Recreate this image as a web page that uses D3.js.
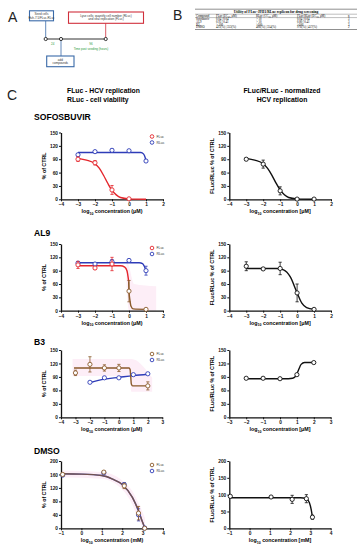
<!DOCTYPE html>
<html>
<head>
<meta charset="utf-8">
<script src="https://cdnjs.cloudflare.com/ajax/libs/d3/7.8.5/d3.min.js"></script>
<style>
  body { margin: 0; background: #fff; }
  svg { display: block; font-family: "Liberation Sans", Arial, sans-serif; }
</style>
</head>
<body>
<div id="fig"></div>
<script>
// ---- data: [x, y, sem] for points, [x, y] for fitted curves
var sofFluc = [[-3, 90, 5], [-2, 82, 5], [-1, 21, 10], [0, 1, 0]];
var sofRluc = [[-3, 100, 3], [-2, 107, 2], [-1, 110, 3], [0, 109, 2], [1, 86, 2]];
var sofFlucFit = [[-3, 92], [-2.5, 88], [-2, 80], [-1.75, 70], [-1.5, 54], [-1.25, 36], [-1, 20], [-0.75, 10], [-0.5, 4], [0, 1], [1, 0]];
var sofRlucFit = [[-3, 105], [0.7, 105], [0.85, 102], [0.95, 94], [1, 86]];
var sofNorm = [[-3, 90, 3], [-2, 79, 9], [-1, 19, 9], [0, 0.5, 0], [1, 0.5, 0]];
var sofNormFit = [[-3, 92], [-2.5, 88], [-2, 80], [-1.75, 70], [-1.5, 55], [-1.25, 37], [-1, 21], [-0.75, 10], [-0.5, 4], [0, 1], [1, 0]];

var al9Fluc = [[-3, 103, 8], [-2, 96, 3], [-1, 105, 15]];
var al9FlucLow = [[0, 44, 24], [1, 3, 1]];
var al9Rluc = [[-3, 107, 3], [-2, 105, 3], [-1, 110, 5], [0, 113, 3], [1, 90, 10]];
var al9FlucFit = [[-3, 101], [-0.5, 101], [-0.25, 98], [-0.12, 90], [-0.05, 75], [-0.02, 66]];
var al9FlucFitLow = [[-0.02, 66], [0, 44], [0.05, 25], [0.12, 10], [0.25, 4], [1, 3]];
var al9RlucFit = [[-3, 108], [0.6, 108], [0.8, 106], [0.9, 100], [1, 90]];
var al9Band = [[-0.15, 60, 115], [0, 0, 100], [0.3, 0, 60], [1.6, 0, 55]];
var al9Norm = [[-3, 100, 10], [-2, 94, 2], [-1, 95, 14], [0, 40, 20], [1, 3, 1]];
var al9NormFit = [[-3, 95], [-1.2, 95], [-0.8, 92], [-0.4, 76], [0, 40], [0.28, 17], [0.56, 7], [1, 3]];

var b3Fluc = [[-3, 99, 6], [-2, 118, 17], [-1, 110, 7], [0, 110, 8], [2, 70, 9]];
var b3Rluc = [[-2, 78, 1], [-1, 88, 1], [0, 88, 1], [1, 95, 1], [2, 97, 1]];
var b3FlucFit = [[-3.1, 110], [0.7, 110], [0.78, 106], [0.82, 90], [0.86, 74], [0.95, 70], [2.1, 70]];
var b3RlucFit = [[-2, 77], [-1, 85], [0, 89], [1, 93], [2, 96]];
var b3Band = [[-3.2, 92, 130], [0.78, 92, 130], [0.86, 57, 130], [2.3, 57, 88]];
var b3Norm = [[-2, 87, 1], [-1, 87, 1], [0, 86, 1], [1, 95, 2], [2, 122, 1]];
var b3NormFit = [[-2, 86], [0.5, 86], [0.75, 87], [0.95, 93], [1.1, 106], [1.25, 118], [1.45, 122], [2, 122]];

var dmsoFluc = [[-0.92, 160, 4], [1.1, 167, 3], [2.1, 126, 8], [2.8, 45, 20], [3.1, 0, 0]];
var dmsoRluc = [[-0.92, 158, 3], [1.1, 165, 3], [2.1, 130, 6], [2.8, 40, 18], [3.1, 1, 0]];
var dmsoFit = [[-1, 162], [0, 161], [1, 157], [1.5, 147], [2, 130], [2.5, 92], [2.8, 52], [3, 18], [3.12, 0]];
var dmsoBand = [[-1, 152, 172], [1, 147, 167], [2, 115, 142], [2.5, 70, 110], [2.8, 25, 75], [3.12, 0, 30]];
var dmsoNorm = [[-0.95, 95, 2], [1.06, 93, 2], [2.1, 86, 12], [2.8, 88, 12], [3.1, 33, 6]];
var dmsoNormFit = [[-1, 91], [2.5, 91], [2.8, 88], [2.95, 76], [3.05, 52], [3.1, 33]];

var ticks150 = [0, 30, 60, 90, 120, 150];
var ticks200L = [0, 40, 80, 120, 160, 200];
var ticks200R = [0, 50, 100, 150, 200];
var xTicksA = [-4, -3, -2, -1, 0, 1, 2];
var xTicksB3L = [-4, -3, -2, -1, 0, 1, 2, 3];
var xTicksB3R = [-3, -2, -1, 0, 1, 2, 3];
var xTicksDmso = [-1, 0, 1, 2, 3, 4];

var tableHead = ["Compound", "FLuc (EC\u2085\u2080, \u03bcM)", "RLuc (CC\u2085\u2080, \u03bcM)", "FLuc/RLuc (EC\u2085\u2080, \u03bcM)", "n"];
var tableRows = [
  ["Sofosbuvir", "0.04 | 0.04", "> 10", "0.04 | 0.04", "3"],
  ["AL9", "0.93 | 0.41", "> 10", "0.80 | 0.41", "3"],
  ["B3", "> 100", ">100", ">100", "3"],
  ["DMSO", "425(%) | 353(%)", "406(%) | 354(%)", "976(%) | 457(%)", "2"]
];

var RED = "#e4262c", BLUE = "#2e3cb8", BROWN = "#8a5a2b", PINK = "#fdeef7";

var svg = d3.select("#fig").append("svg").attr("width", 363).attr("height", 550);
svg.append("rect").attr("width", 363).attr("height", 550).attr("fill", "#fff");

// ---- panel letters and headers
function letter(t, x, y) {
  svg.append("text").attr("x", x).attr("y", y).attr("font-size", 14).attr("fill", "#222").text(t);
}
letter("A", 8, 22);
letter("B", 173, 20);
letter("C", 7, 100);

svg.append("text").attr("x", 67).attr("y", 93).attr("font-size", 6.8).attr("font-weight", "bold").text("FLuc - HCV replication");
svg.append("text").attr("x", 67).attr("y", 101.5).attr("font-size", 6.8).attr("font-weight", "bold").text("RLuc - cell viability");
svg.append("text").attr("x", 282).attr("y", 93).attr("text-anchor", "middle").attr("font-size", 6.8).attr("font-weight", "bold").text("FLuc/RLuc - normalized");
svg.append("text").attr("x", 282).attr("y", 101.5).attr("text-anchor", "middle").attr("font-size", 6.8).attr("font-weight", "bold").text("HCV replication");

[["SOFOSBUVIR", 120], ["AL9", 235.5], ["B3", 344.5], ["DMSO", 453.5]].forEach(function (d) {
  svg.append("text").attr("x", 34).attr("y", d[1]).attr("font-size", 8.6).attr("font-weight", "bold").text(d[0]);
});

// ---- panel A: timeline
var A = svg.append("g");
function box(x, y, w, h, col, lines) {
  A.append("rect").attr("x", x).attr("y", y).attr("width", w).attr("height", h)
    .attr("fill", "#fff").attr("stroke", col).attr("stroke-width", 1.1);
  lines.forEach(function (t, i) {
    A.append("text").attr("x", x + w / 2).attr("y", y + h / 2 - (lines.length - 1) * 1.8 + i * 3.6 + 1)
      .attr("text-anchor", "middle").attr("font-size", 3).attr("fill", "#333").text(t);
  });
}
A.append("line").attr("x1", 45.7).attr("x2", 105.7).attr("y1", 39).attr("y2", 39).attr("stroke", "#333").attr("stroke-width", 1);
A.append("line").attr("x1", 45.7).attr("x2", 45.7).attr("y1", 21).attr("y2", 39).attr("stroke", "#3a6aa8").attr("stroke-width", 0.8);
A.append("line").attr("x1", 105.7).attr("x2", 105.7).attr("y1", 23).attr("y2", 39).attr("stroke", "#d0303c").attr("stroke-width", 0.8);
A.append("line").attr("x1", 61).attr("x2", 61).attr("y1", 39).attr("y2", 56).attr("stroke", "#3a6aa8").attr("stroke-width", 0.8);
[45.7, 61, 105.7].forEach(function (x) {
  A.append("circle").attr("cx", x).attr("cy", 39).attr("r", 1.6).attr("fill", "#fff").attr("stroke", "#222").attr("stroke-width", 0.9);
});
box(29.5, 10.8, 24, 10, "#3a6aa8", ["Seed cells", "Huh-7.5/FLuc-RLuc"]);
box(68.5, 12, 75, 11.3, "#d0303c", ["Lyse cells; quantify cell number (RLuc)", "and viral replication (FLuc)"]);
box(46.7, 56, 27.3, 10.7, "#3a6aa8", ["add", "compounds"]);
A.append("text").attr("x", 52.7).attr("y", 44.5).attr("text-anchor", "middle").attr("font-size", 3).attr("fill", "#2a9a3a").text("24");
A.append("text").attr("x", 91).attr("y", 44.5).attr("text-anchor", "middle").attr("font-size", 3).attr("fill", "#2a9a3a").text("96");
A.append("text").attr("x", 91).attr("y", 49.5).attr("text-anchor", "middle").attr("font-size", 3).attr("fill", "#2a9a3a").text("Time post seeding (hours)");

// ---- panel B: table
var T = svg.append("g").attr("font-family", "'Liberation Serif', 'Times New Roman', serif");
var colX = [196, 216, 256, 297, 348];
T.append("text").attr("x", 276).attr("y", 12.5).attr("text-anchor", "middle").attr("font-size", 3.6).attr("font-weight", "bold")
  .text("Utility of FLuc-JFH1/RLuc replicon for drug screening");
[9.2, 14.2, 17.6, 29.5].forEach(function (y, i) {
  T.append("line").attr("x1", 195).attr("x2", 357).attr("y1", y).attr("y2", y)
    .attr("stroke", "#444").attr("stroke-width", i === 0 || i === 3 ? 0.6 : 0.35);
});
tableHead.forEach(function (t, i) {
  T.append("text").attr("x", colX[i]).attr("y", 16.6).attr("font-size", 3).text(t);
});
tableRows.forEach(function (row, r) {
  row.forEach(function (t, i) {
    T.append("text").attr("x", colX[i]).attr("y", 20.3 + r * 2.7).attr("font-size", 3).text(t);
  });
});

// ---- dose-response charts
var line = d3.line().curve(d3.curveMonotoneX);

function chart(cfg) {
  var g = svg.append("g");
  var x = d3.scaleLinear().domain(cfg.xd).range([cfg.x0, cfg.x1]);
  var y = d3.scaleLinear().domain(cfg.yd).range([cfg.yb, cfg.yt]);

  (cfg.bands || []).forEach(function (b) {
    g.append("path").datum(b)
      .attr("d", d3.area().curve(d3.curveMonotoneX).x(function (d) { return x(d[0]); })
        .y0(function (d) { return y(d[1]); }).y1(function (d) { return y(d[2]); }))
      .attr("fill", PINK);
  });

  var ya = g.append("g").attr("transform", "translate(" + cfg.x0 + ",0)")
    .call(d3.axisLeft(y).tickValues(cfg.yticks).tickSize(2).tickSizeOuter(0).tickPadding(1));
  var xa = g.append("g").attr("transform", "translate(0," + cfg.yb + ")")
    .call(d3.axisBottom(x).tickValues(cfg.xticks).tickSize(2).tickSizeOuter(0).tickPadding(1.5).tickFormat(d3.format("d")));
  [ya, xa].forEach(function (a) {
    a.select(".domain").attr("stroke", "#111").attr("stroke-width", 1.3);
    a.selectAll(".tick line").attr("stroke", "#111").attr("stroke-width", 1);
    a.selectAll(".tick text").attr("font-size", 4.8).attr("font-weight", "bold").attr("fill", "#111")
      .attr("font-family", "'Liberation Sans', Arial, sans-serif");
  });

  g.append("text").attr("transform", "translate(" + cfg.ylx + "," + (cfg.yt + cfg.yb) / 2 + ") rotate(-90)")
    .attr("text-anchor", "middle").attr("font-size", 5.3).attr("font-weight", "bold").text(cfg.ylab);

  var xl = g.append("text").attr("x", (cfg.x0 + cfg.x1) / 2).attr("y", cfg.yb + 14)
    .attr("text-anchor", "middle").attr("font-size", 5.3).attr("font-weight", "bold");
  xl.append("tspan").text("log");
  xl.append("tspan").attr("font-size", 3.6).attr("dy", 1.5).text("10");
  xl.append("tspan").attr("dy", -1.5).text(" concentration " + cfg.unit);

  cfg.fits.forEach(function (f) {
    g.append("path").datum(f.data)
      .attr("d", line.x(function (d) { return x(d[0]); }).y(function (d) { return y(d[1]); }))
      .attr("fill", "none").attr("stroke", f.color).attr("stroke-width", 1.4)
      .attr("opacity", f.opacity || 1);
  });

  cfg.points.forEach(function (s) {
    var pg = g.append("g").attr("stroke", s.color).attr("fill", "none");
    s.data.forEach(function (d) {
      if (d[2] > 0) {
        pg.append("line").attr("x1", x(d[0])).attr("x2", x(d[0]))
          .attr("y1", y(d[1] - d[2])).attr("y2", y(d[1] + d[2])).attr("stroke-width", 0.8);
        [d[1] - d[2], d[1] + d[2]].forEach(function (v) {
          pg.append("line").attr("x1", x(d[0]) - 1.6).attr("x2", x(d[0]) + 1.6)
            .attr("y1", y(v)).attr("y2", y(v)).attr("stroke-width", 0.8);
        });
      }
    });
    pg.selectAll("circle").data(s.data).enter().append("circle")
      .attr("cx", function (d) { return x(d[0]); })
      .attr("cy", function (d) { return y(d[1]); })
      .attr("r", 2.1).attr("fill", "#fff").attr("stroke-width", 0.9);
  });

  (cfg.legend || []).forEach(function (l, i) {
    var ly = cfg.yt + 4 + i * 6;
    g.append("circle").attr("cx", 152).attr("cy", ly).attr("r", 1.8)
      .attr("fill", "#fff").attr("stroke", l.color).attr("stroke-width", 0.9);
    g.append("text").attr("x", 156.5).attr("y", ly + 1.1).attr("font-size", 3.4).attr("fill", "#333").text(l.label);
  });
}

var L0 = 61, L1 = 163, R0 = 229.3, R1 = 331;
var legRB = [{ color: RED, label: "FLuc" }, { color: BLUE, label: "RLuc" }];
var legBB = [{ color: BROWN, label: "FLuc" }, { color: BLUE, label: "RLuc" }];

// SOFOSBUVIR
chart({ x0: L0, x1: L1, xd: [-4, 2], yt: 132.5, yb: 199.3, yd: [0, 150], yticks: ticks150, xticks: xTicksA,
  ylx: 46, ylab: "% of CTRL", unit: "(\u03bcM)",
  fits: [{ data: sofRlucFit, color: BLUE }, { data: sofFlucFit, color: RED }],
  points: [{ data: sofRluc, color: BLUE }, { data: sofFluc, color: RED }], legend: legRB });
chart({ x0: R0, x1: R1, xd: [-4, 2], yt: 132.5, yb: 199.3, yd: [0, 150], yticks: ticks150, xticks: xTicksA,
  ylx: 214, ylab: "FLuc/RLuc % of CTRL", unit: "[\u03bcM]",
  fits: [{ data: sofNormFit, color: "#111" }], points: [{ data: sofNorm, color: "#111" }] });

// AL9
chart({ x0: L0, x1: L1, xd: [-4, 2], yt: 244, yb: 310.7, yd: [0, 150], yticks: ticks150, xticks: xTicksA,
  ylx: 46, ylab: "% of CTRL", unit: "(\u03bcM)", bands: [al9Band],
  fits: [{ data: al9RlucFit, color: BLUE }, { data: al9FlucFit, color: RED }, { data: al9FlucFitLow, color: BROWN }],
  points: [{ data: al9Rluc, color: BLUE }, { data: al9Fluc, color: RED }, { data: al9FlucLow, color: BROWN }], legend: legRB });
chart({ x0: R0, x1: R1, xd: [-4, 2], yt: 244, yb: 310.7, yd: [0, 150], yticks: ticks150, xticks: xTicksA,
  ylx: 214, ylab: "FLuc/RLuc % of CTRL", unit: "[\u03bcM]",
  fits: [{ data: al9NormFit, color: "#111" }], points: [{ data: al9Norm, color: "#111" }] });

// B3
chart({ x0: L0, x1: 162.3, xd: [-4, 3], yt: 350, yb: 417.3, yd: [0, 150], yticks: ticks150, xticks: xTicksB3L,
  ylx: 46, ylab: "% of CTRL", unit: "(\u03bcM)", bands: [b3Band],
  fits: [{ data: b3RlucFit, color: BLUE }, { data: b3FlucFit, color: BROWN }],
  points: [{ data: b3Rluc, color: BLUE }, { data: b3Fluc, color: BROWN }], legend: legBB });
chart({ x0: R0, x1: 330.7, xd: [-3, 3], yt: 350, yb: 417.3, yd: [0, 150], yticks: ticks150, xticks: xTicksB3R,
  ylx: 214, ylab: "FLuc/RLuc % of CTRL", unit: "[\u03bcM]",
  fits: [{ data: b3NormFit, color: "#111" }], points: [{ data: b3Norm, color: "#111" }] });

// DMSO
chart({ x0: L0, x1: L1, xd: [-1, 4], yt: 461, yb: 528.3, yd: [0, 200], yticks: ticks200L, xticks: xTicksDmso,
  ylx: 46, ylab: "% of CTRL", unit: "(mM)", bands: [dmsoBand],
  fits: [{ data: dmsoFit, color: BLUE }, { data: dmsoFit, color: BROWN, opacity: 0.75 }],
  points: [{ data: dmsoRluc, color: BLUE }, { data: dmsoFluc, color: BROWN }], legend: legBB });
chart({ x0: R0, x1: 330.7, xd: [-1, 4], yt: 461, yb: 528.3, yd: [0, 200], yticks: ticks200R, xticks: xTicksDmso,
  ylx: 214, ylab: "FLuc/RLuc % of CTRL", unit: "[mM]",
  fits: [{ data: dmsoNormFit, color: "#111" }], points: [{ data: dmsoNorm, color: "#111" }] });
</script>
</body>
</html>
